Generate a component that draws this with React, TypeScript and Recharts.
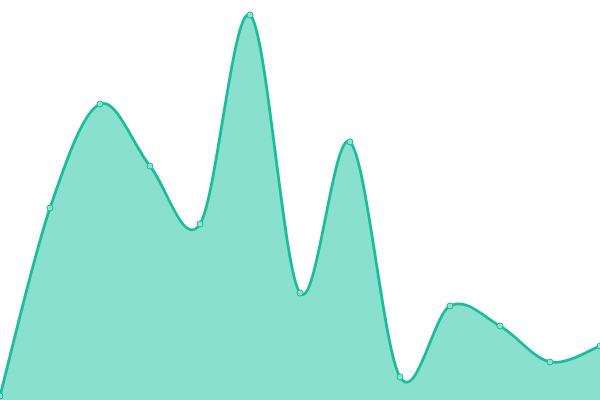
import React from "react";
import { AreaChart, Area, XAxis, YAxis } from "recharts";

const categories = ["1", "2", "3", "4", "5", "6", "7", "8", "9", "10", "11", "12", "13"];
const values = [4, 192, 296, 234, 176, 385, 107, 258, 23, 94, 74, 38, 54];

const data = categories.map((c, i) => ({ name: c, value: values[i] }));

class CatmullRom {
  ctx: any;
  pts: [number, number][] = [];
  line: number = NaN;
  k: number;
  constructor(ctx: any, k: number) {
    this.ctx = ctx;
    this.k = k;
  }
  areaStart() {
    this.line = 0;
  }
  areaEnd() {
    this.line = NaN;
  }
  lineStart() {
    this.pts = [];
  }
  point(x: number, y: number) {
    this.pts.push([+x, +y]);
  }
  lineEnd() {
    const p = this.pts;
    const n = p.length;
    const c = this.ctx;
    if (n) {
      if (this.line) c.lineTo(p[0][0], p[0][1]);
      else c.moveTo(p[0][0], p[0][1]);
      if (n === 2) {
        c.lineTo(p[1][0], p[1][1]);
      } else if (n > 2) {
        const k = this.k;
        for (let i = 0; i < n - 1; i++) {
          const p0 = p[i - 1] || p[i];
          const p1 = p[i];
          const p2 = p[i + 1];
          const p3 = p[i + 2] || p[i + 1];
          c.bezierCurveTo(
            p1[0] + (p2[0] - p0[0]) * k,
            p1[1] + (p2[1] - p0[1]) * k,
            p2[0] - (p3[0] - p1[0]) * k,
            p2[1] - (p3[1] - p1[1]) * k,
            p2[0],
            p2[1]
          );
        }
      }
    }
    if (this.line || (this.line !== 0 && n === 1)) c.closePath();
    this.line = 1 - this.line;
  }
}

const smoothCurve: any = (ctx: any) => new CatmullRom(ctx, 1 / 6);

export default function App() {
  return (
    <div style={{ position: "absolute", top: 0, left: 0, width: 600, height: 400 }}>
      <AreaChart width={600} height={400} data={data} margin={{ top: 0, right: 0, bottom: 0, left: 0 }}>
        <XAxis dataKey="name" hide />
        <YAxis hide domain={[0, 400]} />
        <Area
          type={smoothCurve}
          dataKey="value"
          stroke="#1abc9c"
          strokeWidth={2.8}
          fill="#8ae0ce"
          fillOpacity={1}
          dot={{ r: 3, fill: "#8ee0cf", stroke: "#1abc9c", strokeWidth: 1, fillOpacity: 1 }}
          activeDot={false}
          isAnimationActive={false}
        />
      </AreaChart>
    </div>
  );
}
